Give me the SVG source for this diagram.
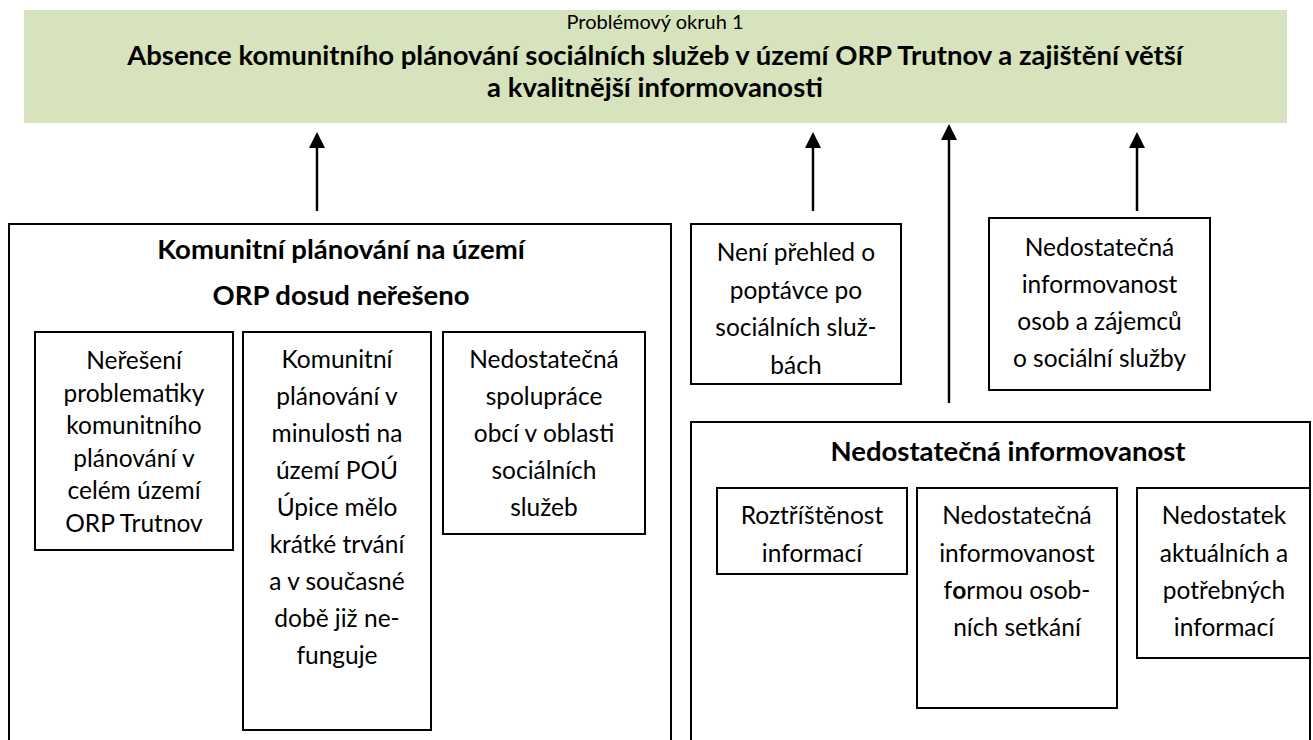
<svg xmlns="http://www.w3.org/2000/svg" width="1313" height="740" viewBox="0 0 1313 740">
<defs>
<marker id="ah" viewBox="0 0 16 16" refX="0" refY="8" markerWidth="16" markerHeight="16" markerUnits="userSpaceOnUse" orient="auto">
<path d="M0,0 L16,8 L0,16 z" fill="#000"/>
</marker>
<style>
.t{font-family:Lato,"Liberation Sans",sans-serif;font-size:24.5px;fill:#000;text-anchor:middle}
.b{font-weight:bold}
.h{font-weight:bold;font-size:27.5px}
.box{fill:#fff;stroke:#000;stroke-width:2}
.big{fill:none;stroke:#000;stroke-width:2}
.con{stroke:#000;stroke-width:2.5;fill:none;marker-end:url(#ah)}
</style>
</defs>
<rect width="1313" height="740" fill="#fff"/>
<g id="banner">
<rect x="24" y="10" width="1263" height="113" fill="#d7e3bc"/>
<text class="t" x="655" y="29" style="font-size:20px">Problémový okruh 1</text>
<text class="t h" x="655" y="65">Absence komunitního plánování sociálních služeb v území ORP Trutnov a zajištění větší</text>
<text class="t h" x="655" y="97">a kvalitnější informovanosti</text>
</g>
<g id="connectors">
<line class="con" x1="317" y1="211" x2="317" y2="148"/>
<line class="con" x1="813" y1="211" x2="813" y2="148"/>
<line class="con" x1="949" y1="403" x2="949" y2="140"/>
<line class="con" x1="1137" y1="211" x2="1137" y2="148"/>
</g>
<g id="komunitni">
<path class="big" d="M9,745 V224 H671 V745"/>
<text class="t h" x="341" y="259">Komunitní plánování na území</text>
<text class="t h" x="341" y="305">ORP dosud neřešeno</text>
</g>
<g id="neeseni">
<rect class="box" x="35" y="332" width="198" height="218"/>
<text class="t" x="134" y="369">Neřešení</text>
<text class="t" x="134" y="401.5">problematiky</text>
<text class="t" x="134" y="434">komunitního</text>
<text class="t" x="134" y="466.5">plánování v</text>
<text class="t" x="134" y="499">celém území</text>
<text class="t" x="134" y="531.5">ORP Trutnov</text>
</g>
<g id="minulost">
<rect class="box" x="243" y="332" width="188" height="398"/>
<text class="t" x="337" y="368">Komunitní</text>
<text class="t" x="337" y="405">plánování v</text>
<text class="t" x="337" y="442">minulosti na</text>
<text class="t" x="337" y="479">území POÚ</text>
<text class="t" x="337" y="516">Úpice mělo</text>
<text class="t" x="337" y="553">krátké trvání</text>
<text class="t" x="337" y="590">a v současné</text>
<text class="t" x="337" y="627">době již ne-</text>
<text class="t" x="337" y="664">funguje</text>
</g>
<g id="spoluprace">
<rect class="box" x="443" y="332" width="202" height="202"/>
<text class="t" x="544" y="368">Nedostatečná</text>
<text class="t" x="544" y="405">spolupráce</text>
<text class="t" x="544" y="442">obcí v oblasti</text>
<text class="t" x="544" y="479">sociálních</text>
<text class="t" x="544" y="516">služeb</text>
</g>
<g id="poptavka">
<rect class="box" x="691" y="224" width="210" height="160"/>
<text class="t" x="796" y="261">Není přehled o</text>
<text class="t" x="796" y="298.5">poptávce po</text>
<text class="t" x="796" y="336">sociálních služ-</text>
<text class="t" x="796" y="373.5">bách</text>
</g>
<g id="informovanost-osob">
<rect class="box" x="989" y="218" width="221" height="172"/>
<text class="t" x="1099.5" y="255.5">Nedostatečná</text>
<text class="t" x="1099.5" y="293">informovanost</text>
<text class="t" x="1099.5" y="330">osob a zájemců</text>
<text class="t" x="1099.5" y="367">o sociální služby</text>
</g>
<g id="informovanost">
<path class="big" d="M691,745 V422 H1310 V745"/>
<text class="t h" x="1008" y="461">Nedostatečná informovanost</text>
</g>
<g id="roztristenost">
<rect class="box" x="717" y="488" width="190" height="86"/>
<text class="t" x="812" y="524">Roztříštěnost</text>
<text class="t" x="812" y="562">informací</text>
</g>
<g id="setkani">
<rect class="box" x="917" y="488" width="200" height="220"/>
<text class="t" x="1017" y="524">Nedostatečná</text>
<text class="t" x="1017" y="561.5">informovanost</text>
<text class="t" x="1017" y="599">f<tspan class="b">o</tspan>rmou osob-</text>
<text class="t" x="1017" y="636">ních setkání</text>
</g>
<g id="nedostatek">
<rect class="box" x="1137" y="488" width="173" height="170"/>
<text class="t" x="1224" y="524">Nedostatek</text>
<text class="t" x="1224" y="561.5">aktuálních a</text>
<text class="t" x="1224" y="599">potřebných</text>
<text class="t" x="1224" y="636">informací</text>
</g>
</svg>
